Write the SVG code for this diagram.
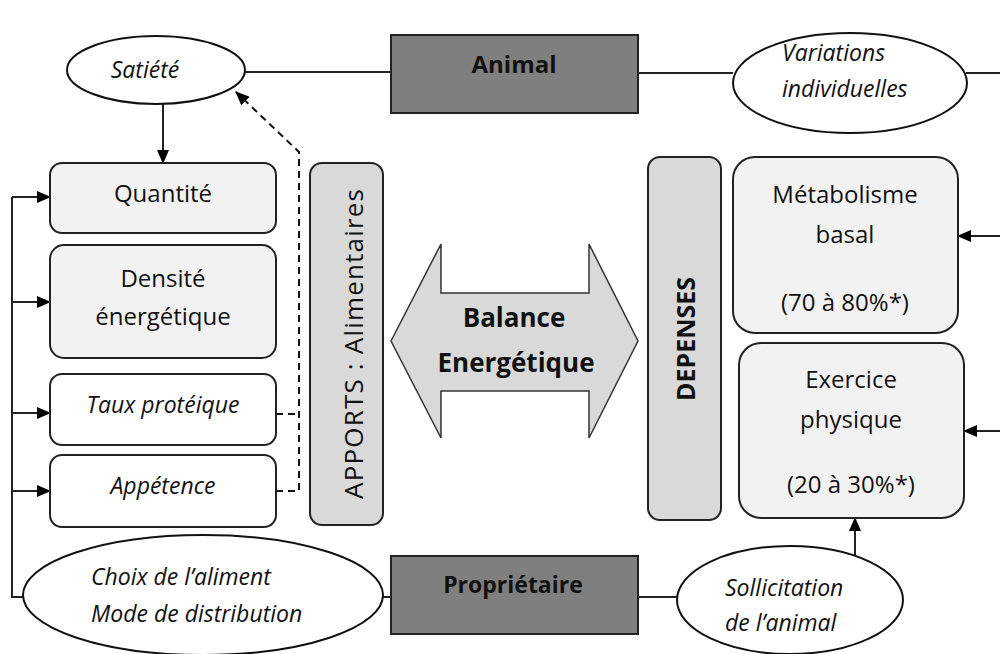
<svg xmlns="http://www.w3.org/2000/svg" width="1000" height="654" viewBox="0 0 1000 654">
<defs>
<marker id="ah" viewBox="0 0 14 12" refX="13" refY="6" markerWidth="14" markerHeight="12" markerUnits="userSpaceOnUse" orient="auto">
<path d="M0,0 L14,6 L0,12 Z" fill="#000"/>
</marker>
</defs>
<style>
.t{font-family:"Open Sans","Liberation Sans",sans-serif;fill:#111;}
.r{font-size:24px;}
.i{font-size:23px;font-style:italic;}
.b{font-weight:bold;}
.box{stroke:#222;stroke-width:2;}
.light{fill:#f2f2f2;}
.white{fill:#fff;}
.bar{fill:#d9d9d9;stroke:#222;stroke-width:2;}
.dark{fill:#7f7f7f;stroke:#222;stroke-width:2;}
.ell{fill:#fff;stroke:#111;stroke-width:2;}
.ln{fill:none;stroke:#222;stroke-width:2;}
.dash{fill:none;stroke:#111;stroke-width:2;stroke-dasharray:7,5;}
</style>
<rect width="1000" height="654" fill="#fff"/>
<g id="connectors">
<line class="ln" x1="245" y1="72" x2="391" y2="72"/>
<line class="ln" x1="638" y1="73" x2="733" y2="73"/>
<line class="ln" x1="966" y1="73" x2="1000" y2="73"/>
<line class="ln" x1="163" y1="104" x2="163" y2="163" marker-end="url(#ah)"/>
<path class="dash" d="M276,414 H299 M276,491 H299 V152 L236,92" marker-end="url(#ah)"/>
<path class="ln" d="M23,597 H12 V197"/>
<line class="ln" x1="12" y1="197" x2="50" y2="197" marker-end="url(#ah)"/>
<line class="ln" x1="12" y1="302" x2="50" y2="302" marker-end="url(#ah)"/>
<line class="ln" x1="12" y1="413" x2="50" y2="413" marker-end="url(#ah)"/>
<line class="ln" x1="12" y1="491" x2="50" y2="491" marker-end="url(#ah)"/>
<line class="ln" x1="383" y1="597" x2="391" y2="597"/>
<line class="ln" x1="638" y1="597" x2="677" y2="597"/>
<line class="ln" x1="855" y1="556" x2="855" y2="518" marker-end="url(#ah)"/>
<line class="ln" x1="1000" y1="236" x2="958" y2="236" marker-end="url(#ah)"/>
<line class="ln" x1="1000" y1="431" x2="964" y2="431" marker-end="url(#ah)"/>
</g>
<g id="satiete">
<ellipse class="ell" cx="156" cy="70" rx="89" ry="34"/>
<text class="t i" x="145" y="78" text-anchor="middle">Satiété</text>
</g>
<g id="animal">
<rect class="dark" x="391" y="35" width="247" height="78"/>
<text class="t b" x="514" y="73" text-anchor="middle" font-size="24">Animal</text>
</g>
<g id="variations">
<ellipse class="ell" cx="850" cy="83" rx="117" ry="50"/>
<text class="t i" x="782" y="61" font-size="22">Variations</text>
<text class="t i" x="782" y="97" font-size="22">individuelles</text>
</g>
<g id="quantite">
<rect class="box light" x="50" y="163" width="226" height="70" rx="12"/>
<text class="t r" x="163" y="202" text-anchor="middle">Quantité</text>
</g>
<g id="densite">
<rect class="box light" x="50" y="245" width="226" height="113" rx="14"/>
<text class="t r" x="163" y="287" text-anchor="middle">Densité</text>
<text class="t r" x="163" y="325" text-anchor="middle">énergétique</text>
</g>
<g id="taux">
<rect class="box white" x="50" y="374" width="226" height="71" rx="12"/>
<text class="t i" x="163" y="413" text-anchor="middle" font-size="24">Taux protéique</text>
</g>
<g id="appetence">
<rect class="box white" x="50" y="455" width="226" height="72" rx="12"/>
<text class="t i" x="163" y="494" text-anchor="middle" font-size="24">Appétence</text>
</g>
<g id="apports">
<rect class="bar" x="310" y="163" width="73" height="362" rx="12"/>
<text class="t" transform="translate(363,344) rotate(-90)" text-anchor="middle" font-size="26" textLength="310" lengthAdjust="spacing">APPORTS : Alimentaires</text>
</g>
<g id="balance">
<polygon points="391,341 441,244 441,293 589,293 589,244 638,341 589,438 589,391 441,391 441,438" fill="#d9d9d9" stroke="#333" stroke-width="1.5"/>
<text class="t b" x="514" y="327" text-anchor="middle" font-size="26">Balance</text>
<text class="t b" x="516" y="372" text-anchor="middle" font-size="26">Energétique</text>
</g>
<g id="depenses">
<rect class="bar" x="648" y="157" width="73" height="363" rx="12"/>
<text class="t b" transform="translate(695,339) rotate(-90)" text-anchor="middle" font-size="25">DEPENSES</text>
</g>
<g id="metabolisme">
<rect class="box light" x="733" y="157" width="225" height="176" rx="22"/>
<text class="t r" x="845" y="203" text-anchor="middle">Métabolisme</text>
<text class="t r" x="845" y="243" text-anchor="middle">basal</text>
<text class="t r" x="845" y="311" text-anchor="middle">(70 à 80%*)</text>
</g>
<g id="exercice">
<rect class="box light" x="739" y="343" width="225" height="175" rx="22"/>
<text class="t r" x="851" y="388" text-anchor="middle">Exercice</text>
<text class="t r" x="851" y="428" text-anchor="middle">physique</text>
<text class="t r" x="851" y="493" text-anchor="middle">(20 à 30%*)</text>
</g>
<g id="choix">
<ellipse class="ell" cx="203" cy="595" rx="180" ry="60"/>
<text class="t i" x="91" y="585" font-size="22">Choix de l’aliment</text>
<text class="t i" x="91" y="622" font-size="22">Mode de distribution</text>
</g>
<g id="proprietaire">
<rect class="dark" x="391" y="556" width="247" height="78"/>
<text class="t b" x="513" y="593" text-anchor="middle" font-size="23">Propriétaire</text>
</g>
<g id="sollicitation">
<ellipse class="ell" cx="790" cy="600" rx="113" ry="54"/>
<text class="t i" x="725" y="596" font-size="22">Sollicitation</text>
<text class="t i" x="725" y="631" font-size="22">de l’animal</text>
</g>
</svg>
